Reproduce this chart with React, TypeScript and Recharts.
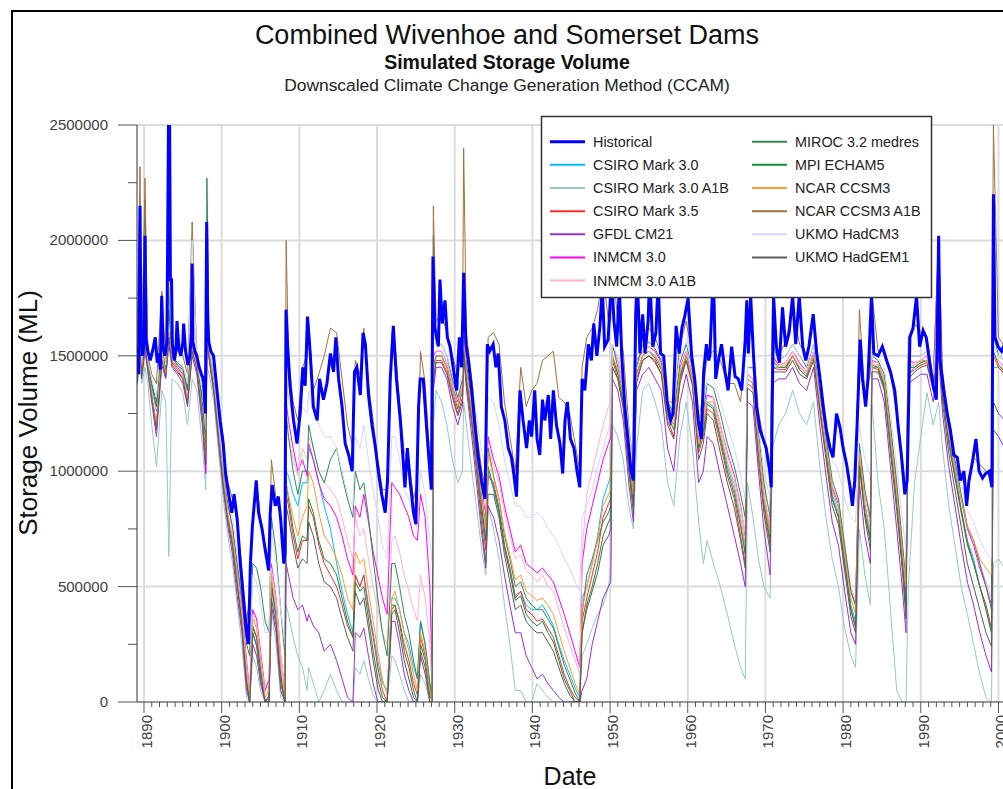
import React from 'react';
import { LineChart, Line, XAxis, YAxis, CartesianGrid } from 'recharts';

// ---------- historical series: [decimal year, storage ML] ----------
const historical: number[][] = [
  [1889.1, 1540000], [1889.3, 1420000], [1889.49, 2150000], [1889.6, 1620000], [1889.8, 1500000],
  [1890.0, 1560000], [1890.13, 2020000], [1890.25, 1580000], [1890.5, 1520000], [1890.8, 1480000],
  [1891.1, 1520000], [1891.45, 1580000], [1891.7, 1470000], [1891.9, 1510000], [1892.1, 1440000],
  [1892.28, 1760000], [1892.45, 1540000], [1892.7, 1500000], [1892.95, 1560000], [1893.15, 2500000],
  [1893.3, 2500000], [1893.4, 1830000], [1893.55, 1830000], [1893.65, 1550000], [1893.9, 1480000],
  [1894.1, 1520000], [1894.25, 1650000], [1894.5, 1530000], [1894.75, 1500000], [1895.0, 1560000],
  [1895.1, 1640000], [1895.35, 1520000], [1895.65, 1460000], [1895.9, 1500000], [1896.1, 1600000],
  [1896.2, 1900000], [1896.3, 1560000], [1896.55, 1520000], [1896.8, 1500000], [1897.1, 1450000],
  [1897.4, 1420000], [1897.65, 1400000], [1897.9, 1250000], [1898.07, 2080000], [1898.2, 1650000],
  [1898.35, 1560000], [1898.6, 1520000], [1898.95, 1500000], [1899.4, 1350000], [1899.8, 1220000],
  [1900.2, 1120000], [1900.5, 990000], [1900.9, 900000], [1901.3, 820000], [1901.6, 900000],
  [1902.0, 790000], [1902.4, 600000], [1902.8, 450000], [1903.2, 300000], [1903.45, 250000],
  [1903.7, 600000], [1903.95, 760000], [1904.3, 900000], [1904.45, 960000], [1904.75, 820000],
  [1905.2, 750000], [1905.6, 660000], [1906.05, 570000], [1906.25, 820000], [1906.5, 940000],
  [1906.9, 850000], [1907.3, 890000], [1907.6, 790000], [1908.0, 600000], [1908.15, 650000],
  [1908.28, 1700000], [1908.5, 1540000], [1908.8, 1370000], [1909.25, 1220000], [1909.7, 1120000],
  [1910.1, 1250000], [1910.45, 1450000], [1910.75, 1370000], [1911.05, 1670000], [1911.4, 1510000],
  [1911.8, 1280000], [1912.3, 1220000], [1912.6, 1400000], [1913.1, 1310000], [1913.55, 1380000],
  [1914.0, 1510000], [1914.4, 1430000], [1914.7, 1580000], [1915.05, 1400000], [1915.5, 1280000],
  [1915.9, 1120000], [1916.35, 1070000], [1916.8, 1000000], [1917.1, 1430000], [1917.4, 1450000],
  [1917.85, 1330000], [1918.2, 1600000], [1918.5, 1550000], [1918.9, 1330000], [1919.35, 1200000],
  [1919.8, 1100000], [1920.2, 990000], [1920.6, 900000], [1921.05, 820000], [1921.35, 960000],
  [1921.7, 1400000], [1922.1, 1630000], [1922.5, 1400000], [1923.0, 1220000], [1923.4, 1030000],
  [1923.6, 930000], [1923.9, 1100000], [1924.25, 960000], [1924.7, 820000], [1925.0, 770000],
  [1925.35, 1280000], [1925.55, 1400000], [1925.95, 1400000], [1926.4, 1180000], [1926.8, 1000000],
  [1927.0, 920000], [1927.2, 1930000], [1927.45, 1620000], [1927.9, 1540000], [1928.1, 1830000],
  [1928.4, 1640000], [1928.75, 1740000], [1929.05, 1580000], [1929.4, 1540000], [1929.8, 1450000],
  [1930.25, 1350000], [1930.6, 1580000], [1930.9, 1450000], [1931.15, 1860000], [1931.45, 1550000],
  [1931.75, 1480000], [1932.2, 1350000], [1932.6, 1200000], [1933.0, 1070000], [1933.45, 960000],
  [1933.9, 880000], [1934.2, 1550000], [1934.5, 1520000], [1934.95, 1550000], [1935.3, 1450000],
  [1935.6, 1510000], [1936.0, 1280000], [1936.45, 1220000], [1936.9, 1100000], [1937.3, 1060000],
  [1937.6, 990000], [1937.95, 890000], [1938.4, 1350000], [1938.8, 1220000], [1939.25, 1100000],
  [1939.6, 1220000], [1939.9, 1150000], [1940.3, 1350000], [1940.6, 1140000], [1940.95, 1070000],
  [1941.3, 1310000], [1941.6, 1220000], [1942.05, 1330000], [1942.35, 1140000], [1942.7, 1350000],
  [1943.1, 1200000], [1943.55, 1120000], [1943.9, 990000], [1944.2, 1220000], [1944.5, 1300000],
  [1944.9, 1140000], [1945.35, 1100000], [1945.75, 1000000], [1946.1, 930000], [1946.4, 1400000],
  [1946.75, 1350000], [1947.2, 1550000], [1947.6, 1480000], [1947.9, 1640000], [1948.3, 1500000],
  [1948.7, 1630000], [1949.0, 1800000], [1949.3, 1540000], [1949.75, 1570000], [1950.2, 1850000],
  [1950.5, 1650000], [1950.85, 1540000], [1951.2, 1800000], [1951.5, 1500000], [1951.9, 1280000],
  [1952.35, 1120000], [1952.7, 1000000], [1953.0, 960000], [1953.3, 1680000], [1953.5, 1850000],
  [1953.85, 1510000], [1954.2, 1680000], [1954.5, 1510000], [1954.9, 1650000], [1955.1, 1850000],
  [1955.5, 1540000], [1955.9, 1600000], [1956.2, 1830000], [1956.5, 1510000], [1956.9, 1500000],
  [1957.35, 1300000], [1957.8, 1220000], [1958.1, 1250000], [1958.5, 1630000], [1958.9, 1510000],
  [1959.25, 1620000], [1959.6, 1670000], [1960.05, 1750000], [1960.5, 1500000], [1960.9, 1400000],
  [1961.35, 1220000], [1961.75, 1140000], [1962.05, 1430000], [1962.4, 1550000], [1962.7, 1480000],
  [1962.85, 1500000], [1963.3, 1870000], [1963.6, 1400000], [1963.9, 1470000], [1964.35, 1550000],
  [1964.8, 1430000], [1965.2, 1350000], [1965.65, 1540000], [1966.1, 1410000], [1966.5, 1400000],
  [1966.95, 1350000], [1967.4, 1570000], [1967.6, 1740000], [1967.8, 1510000], [1968.1, 1760000],
  [1968.45, 1510000], [1968.85, 1280000], [1969.3, 1180000], [1969.7, 1140000], [1970.1, 1100000],
  [1970.55, 1000000], [1970.75, 930000], [1971.05, 1760000], [1971.4, 1540000], [1971.8, 1470000],
  [1972.2, 1710000], [1972.6, 1540000], [1973.05, 1600000], [1973.5, 1760000], [1973.9, 1550000],
  [1974.35, 1760000], [1974.8, 1540000], [1975.2, 1480000], [1975.6, 1540000], [1976.15, 1680000],
  [1976.6, 1510000], [1977.0, 1410000], [1977.45, 1280000], [1977.85, 1180000], [1978.3, 1100000],
  [1978.7, 1060000], [1979.15, 1250000], [1979.6, 1190000], [1980.0, 1100000], [1980.45, 1030000],
  [1980.9, 930000], [1981.2, 850000], [1981.5, 960000], [1981.8, 1200000], [1982.2, 1570000],
  [1982.5, 1400000], [1982.9, 1280000], [1983.2, 1400000], [1983.65, 1760000], [1983.95, 1510000],
  [1984.5, 1500000], [1985.05, 1540000], [1985.6, 1480000], [1986.1, 1430000], [1986.65, 1350000],
  [1987.1, 1190000], [1987.5, 1070000], [1987.95, 900000], [1988.25, 960000], [1988.6, 1580000],
  [1989.0, 1620000], [1989.45, 1760000], [1989.85, 1540000], [1990.3, 1610000], [1990.7, 1580000],
  [1991.15, 1470000], [1991.6, 1370000], [1992.0, 1310000], [1992.3, 2020000], [1992.5, 1480000],
  [1992.95, 1350000], [1993.4, 1250000], [1993.8, 1180000], [1994.25, 1070000], [1994.7, 1060000],
  [1995.1, 960000], [1995.55, 1000000], [1995.9, 850000], [1996.2, 960000], [1996.65, 1040000],
  [1997.1, 1140000], [1997.5, 1000000], [1997.95, 970000], [1998.35, 990000], [1998.8, 1000000],
  [1999.15, 930000], [1999.35, 2200000], [1999.55, 1580000], [1999.95, 1540000], [2000.4, 1520000],
  [2000.9, 1560000], [2001.5, 1500000],
];

// ---------- shared time grid for the climate-model series ----------
const modelYears = [
  1889.1, 1889.49, 1889.7, 1890.13, 1890.5, 1891.0, 1891.6, 1892.3, 1892.8, 1893.2, 1893.6, 1894.3, 1895.0, 1895.6, 1896.2, 1896.8, 1897.5, 1897.95, 1898.1, 1898.4,
  1899.0, 1899.6, 1900.2, 1900.8, 1901.4, 1902.0, 1902.6, 1903.2, 1903.6, 1904.0, 1904.5, 1905.0, 1905.6, 1906.1, 1906.4, 1907.0, 1907.6, 1908.15,
  1908.3, 1908.6, 1909.2, 1909.8, 1910.4, 1911.0, 1911.2, 1911.8, 1912.5, 1913.2, 1914.0, 1914.8, 1915.5, 1916.2, 1916.9, 1917.2, 1917.8, 1918.3, 1918.9, 1919.5, 1920.1, 1920.7, 1921.3, 1921.9, 1922.3, 1922.9, 1923.5, 1924.1, 1924.7, 1925.2, 1925.6, 1926.2, 1926.8, 1927.1, 1927.25,
  1927.6, 1928.3, 1929.0, 1929.7, 1930.4, 1931.0, 1931.15, 1931.5, 1932.2, 1932.9, 1933.5, 1934.0, 1934.3,
  1935.0, 1935.7, 1936.4, 1937.1, 1937.8, 1938.5, 1939.2, 1939.9, 1940.6, 1941.3, 1942.0, 1942.7, 1943.4, 1944.1, 1944.8, 1945.5, 1946.1, 1946.4,
  1947.0, 1947.7, 1948.4, 1949.1, 1949.8, 1950.1, 1950.3, 1951.0, 1951.7, 1952.4, 1953.0, 1953.4,
  1954.2, 1955.0, 1955.8, 1956.6, 1957.4, 1958.2, 1959.0, 1959.8, 1960.6, 1961.4, 1962.0, 1962.5, 1963.3, 1964.2, 1965.1, 1966.0, 1966.8, 1967.4,
  1967.7, 1968.4, 1969.1, 1969.8, 1970.6, 1970.9,
  1971.7, 1972.6, 1973.5, 1974.4, 1975.3, 1976.2, 1977.0, 1977.8, 1978.6, 1979.4, 1980.2, 1981.0, 1981.6, 1982.1, 1982.8, 1983.5, 1983.7,
  1984.5, 1985.3, 1986.1, 1986.9, 1987.6, 1988.1, 1988.4,
  1989.2, 1990.0, 1990.8, 1991.6, 1992.3, 1992.8, 1993.6, 1994.4, 1995.2, 1996.0, 1996.8, 1997.6, 1998.4, 1999.1, 1999.35, 2000.0, 2000.8, 2001.5,
];

const csiroMk30 = [
  1420000, 1550000, 1430000, 1550000, 1470000, 1360000, 1260000, 1480000, 1430000, 1580000, 1490000, 1460000, 1430000, 1340000, 1520000, 1460000, 1300000, 1100000, 1550000, 1500000,
  1380000, 1160000, 960000, 800000, 700000, 520000, 350000, 100000, 0, 300000, 250000, 120000, 0, 20000, 500000, 350000, 100000, 0,
  1000000, 980000, 900000, 850000, 950000, 950000, 1100000, 1050000, 950000, 850000, 750000, 600000, 480000, 380000, 300000, 550000, 500000, 550000, 420000, 300000, 180000, 80000, 50000, 450000, 450000, 400000, 300000, 250000, 150000, 100000, 350000, 250000, 80000, 20000, 1400000,
  1500000, 1500000, 1450000, 1360000, 1280000, 1350000, 1550000, 1420000, 1240000, 1030000, 830000, 700000, 1000000,
  920000, 820000, 680000, 580000, 460000, 480000, 420000, 400000, 400000, 420000, 380000, 330000, 250000, 180000, 120000, 60000, 20000, 450000,
  500000, 600000, 720000, 880000, 950000, 980000, 1500000, 1420000, 1300000, 1050000, 880000, 1420000,
  1500000, 1520000, 1500000, 1450000, 1250000, 1200000, 1420000, 1500000, 1400000, 1100000, 1180000, 1300000, 1280000, 1150000, 1020000, 920000, 780000, 650000,
  1400000, 1380000, 1100000, 880000, 720000, 1450000,
  1450000, 1450000, 1500000, 1450000, 1420000, 1500000, 1300000, 1100000, 900000, 820000, 620000, 420000, 350000, 1050000, 850000, 720000, 1450000,
  1450000, 1380000, 1120000, 880000, 620000, 420000, 1420000,
  1450000, 1470000, 1480000, 1380000, 1600000, 1350000, 1150000, 1000000, 840000, 700000, 620000, 500000, 400000, 300000, 1450000, 1450000, 1420000, 1400000,
];

const csiroMk30A1B = [
  1370000, 1450000, 1380000, 1450000, 1380000, 1200000, 1020000, 1350000, 1300000, 630000, 1400000, 1380000, 1340000, 1200000, 1400000, 1350000, 1120000, 920000, 1450000, 1420000,
  1300000, 1080000, 880000, 720000, 600000, 420000, 250000, 20000, 0, 200000, 150000, 50000, 0, 0, 400000, 250000, 20000, 0,
  420000, 380000, 280000, 200000, 150000, 50000, 150000, 80000, 0, 50000, 120000, 50000, 0, 0, 0, 150000, 120000, 180000, 100000, 30000, 0, 0, 0, 200000, 180000, 120000, 50000, 0, 0, 0, 120000, 80000, 0, 0, 1200000,
  1350000, 1300000, 1200000, 1050000, 950000, 1000000, 1300000, 1200000, 1000000, 820000, 650000, 550000, 850000,
  750000, 620000, 420000, 250000, 50000, 50000, 0, 0, 80000, 50000, 20000, 0, 0, 0, 0, 0, 0, 200000,
  250000, 320000, 380000, 420000, 500000, 600000, 1200000, 1150000, 1050000, 850000, 750000, 1100000,
  1350000, 1380000, 1300000, 1200000, 950000, 850000, 1150000, 1300000, 1100000, 780000, 600000, 700000, 600000, 500000, 380000, 250000, 150000, 100000,
  950000, 800000, 620000, 500000, 450000, 1100000,
  1200000, 1250000, 1350000, 1250000, 1200000, 1300000, 1020000, 800000, 620000, 500000, 320000, 200000, 150000, 750000, 550000, 420000, 1300000,
  950000, 750000, 400000, 50000, 0, 0, 500000,
  950000, 1150000, 1340000, 1200000, 1300000, 1100000, 850000, 680000, 500000, 380000, 250000, 120000, 20000, 0, 600000, 620000, 580000, 550000,
];

const csiroMk35 = [
  1400000, 1580000, 1420000, 1580000, 1450000, 1330000, 1200000, 1500000, 1420000, 1600000, 1470000, 1440000, 1400000, 1300000, 1550000, 1440000, 1250000, 1050000, 1600000, 1490000,
  1360000, 1150000, 950000, 800000, 680000, 520000, 350000, 100000, 20000, 320000, 280000, 150000, 0, 30000, 500000, 380000, 120000, 0,
  900000, 850000, 720000, 620000, 700000, 700000, 850000, 800000, 680000, 600000, 550000, 500000, 420000, 330000, 280000, 550000, 500000, 550000, 400000, 280000, 150000, 50000, 0, 400000, 420000, 350000, 250000, 180000, 80000, 30000, 280000, 200000, 50000, 0, 1380000,
  1480000, 1480000, 1430000, 1330000, 1250000, 1320000, 1550000, 1400000, 1220000, 1000000, 800000, 660000, 980000,
  950000, 840000, 680000, 580000, 450000, 480000, 400000, 380000, 350000, 360000, 320000, 280000, 200000, 120000, 60000, 20000, 0, 350000,
  450000, 550000, 650000, 800000, 860000, 880000, 1480000, 1400000, 1280000, 1020000, 850000, 1400000,
  1480000, 1500000, 1480000, 1420000, 1220000, 1150000, 1400000, 1480000, 1380000, 1080000, 1150000, 1270000, 1250000, 1120000, 980000, 880000, 720000, 600000,
  1380000, 1360000, 1080000, 850000, 680000, 1450000,
  1440000, 1440000, 1500000, 1440000, 1410000, 1500000, 1280000, 1080000, 880000, 800000, 600000, 400000, 320000, 1050000, 820000, 700000, 1450000,
  1440000, 1360000, 1120000, 860000, 600000, 400000, 1420000,
  1440000, 1460000, 1470000, 1360000, 1550000, 1330000, 1120000, 970000, 820000, 680000, 600000, 500000, 420000, 320000, 1500000, 1450000, 1420000, 1400000,
];

const gfdlCm21 = [
  1380000, 1520000, 1400000, 1520000, 1430000, 1300000, 1150000, 1460000, 1400000, 1550000, 1450000, 1420000, 1380000, 1280000, 1500000, 1420000, 1200000, 990000, 1550000, 1480000,
  1330000, 1120000, 920000, 760000, 640000, 460000, 300000, 50000, 0, 250000, 200000, 80000, 0, 0, 420000, 300000, 50000, 0,
  600000, 550000, 450000, 400000, 420000, 350000, 380000, 330000, 300000, 220000, 250000, 180000, 100000, 20000, 0, 300000, 280000, 320000, 200000, 80000, 0, 0, 0, 350000, 350000, 250000, 120000, 50000, 0, 0, 200000, 120000, 0, 0, 1350000,
  1450000, 1450000, 1400000, 1280000, 1200000, 1280000, 1500000, 1360000, 1150000, 920000, 720000, 580000, 850000,
  800000, 700000, 550000, 420000, 300000, 300000, 200000, 150000, 100000, 120000, 80000, 50000, 20000, 0, 0, 0, 0, 50000,
  100000, 250000, 350000, 450000, 500000, 520000, 1400000, 1350000, 1220000, 950000, 780000, 1350000,
  1420000, 1450000, 1400000, 1350000, 1100000, 1000000, 1300000, 1420000, 1300000, 950000, 1000000, 1150000, 1120000, 980000, 850000, 720000, 600000, 500000,
  1300000, 1280000, 1000000, 750000, 550000, 1380000,
  1400000, 1400000, 1450000, 1380000, 1350000, 1450000, 1200000, 980000, 780000, 680000, 480000, 300000, 250000, 950000, 720000, 600000, 1400000,
  1400000, 1300000, 1020000, 750000, 500000, 300000, 1380000,
  1400000, 1420000, 1420000, 1300000, 1500000, 1250000, 1020000, 850000, 680000, 520000, 420000, 300000, 200000, 130000, 1180000, 1150000, 1100000, 1050000,
];

const inmcm30 = [
  1410000, 1600000, 1430000, 1600000, 1450000, 1320000, 1180000, 1500000, 1420000, 1600000, 1480000, 1450000, 1420000, 1300000, 1550000, 1450000, 1250000, 1000000, 1600000, 1500000,
  1400000, 1200000, 1000000, 850000, 750000, 580000, 420000, 180000, 50000, 400000, 360000, 220000, 50000, 100000, 600000, 450000, 200000, 50000,
  1300000, 1220000, 1100000, 1000000, 1050000, 980000, 1120000, 1050000, 950000, 880000, 850000, 800000, 720000, 620000, 550000, 850000, 800000, 900000, 780000, 650000, 550000, 450000, 380000, 950000, 930000, 900000, 850000, 800000, 720000, 700000, 900000, 800000, 500000, 100000, 1500000,
  1520000, 1520000, 1470000, 1380000, 1300000, 1380000, 1600000, 1450000, 1300000, 1100000, 920000, 800000, 1150000,
  1050000, 980000, 850000, 750000, 650000, 680000, 600000, 580000, 560000, 580000, 550000, 520000, 450000, 380000, 300000, 220000, 150000, 600000,
  750000, 850000, 950000, 1050000, 1120000, 1150000, 1550000, 1480000, 1360000, 1120000, 950000, 1480000,
  1520000, 1540000, 1520000, 1470000, 1280000, 1240000, 1450000, 1520000, 1420000, 1140000, 1220000, 1330000, 1320000, 1200000, 1080000, 980000, 850000, 720000,
  1420000, 1400000, 1120000, 900000, 750000, 1500000,
  1460000, 1470000, 1520000, 1470000, 1430000, 1520000, 1320000, 1120000, 930000, 860000, 660000, 480000, 420000, 1100000, 900000, 780000, 1480000,
  1470000, 1400000, 1180000, 930000, 680000, 480000, 1480000,
  1470000, 1480000, 1500000, 1400000, 2010000, 1380000, 1180000, 1030000, 880000, 750000, 680000, 580000, 500000, 420000, 1500000, 1480000, 1450000, 1420000,
];

const inmcm30A1B = [
  1420000, 1580000, 1440000, 1580000, 1460000, 1360000, 1270000, 1500000, 1430000, 1600000, 1490000, 1460000, 1430000, 1340000, 1560000, 1460000, 1300000, 1100000, 1600000, 1510000,
  1400000, 1200000, 1000000, 840000, 740000, 570000, 400000, 160000, 50000, 380000, 340000, 200000, 40000, 80000, 580000, 440000, 200000, 50000,
  1200000, 1150000, 1050000, 980000, 1100000, 1050000, 1150000, 1100000, 1000000, 950000, 920000, 880000, 800000, 700000, 620000, 800000, 720000, 750000, 620000, 500000, 400000, 300000, 250000, 700000, 720000, 650000, 550000, 480000, 400000, 350000, 550000, 450000, 250000, 50000, 1450000,
  1520000, 1520000, 1470000, 1380000, 1310000, 1380000, 1580000, 1450000, 1290000, 1100000, 900000, 780000, 1120000,
  1020000, 950000, 820000, 720000, 620000, 640000, 570000, 550000, 520000, 550000, 500000, 480000, 400000, 320000, 250000, 180000, 120000, 650000,
  900000, 1000000, 1100000, 1200000, 1280000, 1300000, 1550000, 1480000, 1360000, 1100000, 940000, 1450000,
  1520000, 1540000, 1510000, 1460000, 1270000, 1220000, 1440000, 1520000, 1420000, 1130000, 1220000, 1320000, 1320000, 1200000, 1070000, 970000, 840000, 730000,
  1420000, 1400000, 1130000, 900000, 760000, 1480000,
  1460000, 1470000, 1520000, 1460000, 1430000, 1520000, 1320000, 1130000, 940000, 870000, 680000, 500000, 440000, 1100000, 900000, 780000, 1470000,
  1470000, 1400000, 1180000, 940000, 700000, 500000, 1460000,
  1470000, 1480000, 1500000, 1400000, 1900000, 1380000, 1180000, 1040000, 900000, 760000, 700000, 600000, 520000, 450000, 1500000, 1480000, 1450000, 1420000,
];

const miroc32 = [
  1430000, 1900000, 1450000, 2180000, 1480000, 1380000, 1300000, 1600000, 1450000, 1800000, 1500000, 1470000, 1450000, 1360000, 1600000, 1470000, 1320000, 1150000, 2270000, 1530000,
  1420000, 1220000, 1020000, 860000, 760000, 600000, 450000, 250000, 200000, 600000, 580000, 500000, 350000, 300000, 800000, 650000, 400000, 200000,
  1250000, 1150000, 1000000, 900000, 1000000, 1000000, 1200000, 1100000, 1000000, 950000, 1050000, 1100000, 980000, 880000, 800000, 1000000, 920000, 950000, 800000, 620000, 450000, 300000, 200000, 600000, 600000, 500000, 380000, 300000, 180000, 100000, 350000, 250000, 80000, 20000, 2020000,
  1550000, 1550000, 1500000, 1400000, 1320000, 1400000, 1700000, 1470000, 1300000, 1080000, 880000, 750000, 1100000,
  980000, 880000, 720000, 620000, 500000, 520000, 450000, 420000, 400000, 400000, 360000, 320000, 240000, 160000, 100000, 40000, 0, 380000,
  550000, 620000, 700000, 780000, 820000, 850000, 1550000, 1450000, 1320000, 1080000, 900000, 1450000,
  1550000, 1560000, 1530000, 1480000, 1300000, 1250000, 1470000, 1550000, 1450000, 1180000, 1250000, 1380000, 1360000, 1250000, 1120000, 1020000, 900000, 800000,
  1450000, 1450000, 1180000, 950000, 800000, 1550000,
  1480000, 1500000, 1550000, 1500000, 1450000, 1550000, 1350000, 1150000, 960000, 880000, 680000, 480000, 420000, 1120000, 920000, 800000, 1500000,
  1480000, 1420000, 1200000, 950000, 700000, 520000, 1500000,
  1500000, 1500000, 1520000, 1420000, 1700000, 1400000, 1200000, 1050000, 900000, 760000, 700000, 600000, 500000, 400000, 1600000, 1500000, 1480000, 1450000,
];

const mpiEcham5 = [
  1420000, 1650000, 1440000, 1700000, 1470000, 1370000, 1280000, 1550000, 1440000, 1700000, 1500000, 1460000, 1440000, 1350000, 1580000, 1470000, 1300000, 1120000, 1800000, 1520000,
  1370000, 1160000, 960000, 800000, 700000, 530000, 360000, 100000, 0, 330000, 280000, 140000, 0, 20000, 520000, 380000, 120000, 0,
  950000, 880000, 750000, 650000, 720000, 700000, 880000, 820000, 700000, 620000, 600000, 550000, 450000, 350000, 280000, 520000, 480000, 500000, 360000, 220000, 100000, 20000, 0, 420000, 420000, 340000, 220000, 150000, 50000, 0, 250000, 180000, 30000, 0, 1450000,
  1500000, 1500000, 1450000, 1350000, 1270000, 1350000, 1650000, 1420000, 1250000, 1040000, 840000, 700000, 1020000,
  930000, 830000, 670000, 560000, 440000, 460000, 380000, 350000, 330000, 350000, 300000, 260000, 180000, 100000, 50000, 0, 0, 300000,
  420000, 500000, 600000, 720000, 780000, 800000, 1500000, 1420000, 1300000, 1040000, 860000, 1420000,
  1500000, 1520000, 1490000, 1440000, 1240000, 1180000, 1410000, 1500000, 1400000, 1100000, 1170000, 1290000, 1270000, 1140000, 1000000, 900000, 760000, 640000,
  1400000, 1380000, 1100000, 860000, 700000, 1480000,
  1450000, 1450000, 1500000, 1440000, 1410000, 1500000, 1280000, 1080000, 880000, 800000, 600000, 400000, 330000, 1050000, 820000, 700000, 1460000,
  1450000, 1370000, 1120000, 870000, 620000, 420000, 1450000,
  1450000, 1470000, 1480000, 1370000, 1600000, 1340000, 1130000, 980000, 830000, 690000, 600000, 500000, 400000, 300000, 1520000, 1460000, 1430000, 1400000,
];

const ncarCcsm3 = [
  1400000, 1600000, 1420000, 1600000, 1450000, 1320000, 1200000, 1500000, 1420000, 1600000, 1480000, 1440000, 1410000, 1300000, 1550000, 1450000, 1260000, 1050000, 1600000, 1500000,
  1380000, 1170000, 970000, 810000, 710000, 550000, 380000, 130000, 20000, 360000, 320000, 180000, 20000, 50000, 550000, 400000, 150000, 20000,
  950000, 900000, 800000, 720000, 800000, 850000, 1000000, 950000, 820000, 720000, 680000, 620000, 550000, 450000, 400000, 650000, 600000, 620000, 480000, 350000, 220000, 100000, 30000, 450000, 480000, 400000, 300000, 220000, 120000, 50000, 300000, 220000, 50000, 0, 1400000,
  1500000, 1500000, 1450000, 1350000, 1280000, 1360000, 1600000, 1430000, 1260000, 1060000, 870000, 750000, 1080000,
  970000, 880000, 740000, 640000, 530000, 550000, 480000, 460000, 440000, 450000, 420000, 380000, 300000, 220000, 150000, 80000, 30000, 400000,
  500000, 600000, 700000, 850000, 900000, 920000, 1500000, 1440000, 1320000, 1060000, 900000, 1420000,
  1500000, 1520000, 1500000, 1450000, 1250000, 1200000, 1430000, 1500000, 1400000, 1120000, 1200000, 1300000, 1300000, 1170000, 1040000, 940000, 800000, 680000,
  1400000, 1380000, 1100000, 880000, 730000, 1470000,
  1450000, 1460000, 1500000, 1450000, 1420000, 1500000, 1300000, 1100000, 920000, 840000, 640000, 450000, 380000, 1080000, 860000, 740000, 1460000,
  1460000, 1390000, 1150000, 900000, 660000, 500000, 1450000,
  1460000, 1480000, 1480000, 1380000, 1600000, 1360000, 1160000, 1020000, 880000, 760000, 700000, 620000, 580000, 550000, 1500000, 1460000, 1440000, 1420000,
];

const ncarCcsm3A1B = [
  1450000, 2320000, 1480000, 2270000, 1500000, 1420000, 1380000, 1780000, 1480000, 2300000, 1550000, 1520000, 1500000, 1420000, 2080000, 1500000, 1380000, 1250000, 2000000, 1540000,
  1480000, 1280000, 1080000, 950000, 880000, 800000, 580000, 350000, 450000, 800000, 950000, 800000, 680000, 600000, 1050000, 880000, 800000, 620000,
  2000000, 1500000, 1300000, 1220000, 1450000, 1500000, 1650000, 1350000, 1420000, 1500000, 1620000, 1600000, 1400000, 1200000, 1100000, 1480000, 1420000, 1620000, 1380000, 1220000, 1050000, 920000, 920000, 1600000, 1550000, 1300000, 1080000, 1050000, 880000, 950000, 1520000, 1380000, 1050000, 950000, 2150000,
  1650000, 1680000, 1600000, 1500000, 1420000, 1520000, 2400000, 1600000, 1400000, 1150000, 1000000, 920000, 1580000,
  1600000, 1550000, 1300000, 1150000, 1000000, 1450000, 1280000, 1350000, 1380000, 1480000, 1500000, 1520000, 1320000, 1300000, 1250000, 1120000, 1000000, 1450000,
  1580000, 1620000, 1700000, 1850000, 1650000, 1650000, 1900000, 1650000, 1520000, 1200000, 1020000, 1720000,
  1600000, 1620000, 1580000, 1500000, 1300000, 1300000, 1550000, 1650000, 1500000, 1200000, 1350000, 1500000, 1520000, 1480000, 1380000, 1380000, 1300000, 1550000,
  1700000, 1550000, 1260000, 1130000, 1000000, 1700000,
  1500000, 1560000, 1700000, 1550000, 1500000, 1680000, 1420000, 1200000, 1080000, 1230000, 1080000, 920000, 930000, 1700000, 1330000, 1420000, 1780000,
  1520000, 1530000, 1420000, 1250000, 1060000, 920000, 1580000,
  1640000, 1600000, 1580000, 1400000, 2000000, 1430000, 1230000, 1080000, 980000, 900000, 1060000, 1030000, 1000000, 960000, 2500000, 1580000, 1540000, 1500000,
];

const ukmoHadCm3 = [
  1440000, 1700000, 1460000, 1750000, 1480000, 1400000, 1320000, 1600000, 1460000, 1900000, 1520000, 1480000, 1460000, 1380000, 2000000, 1480000, 1350000, 1180000, 1700000, 1530000,
  1420000, 1220000, 1030000, 880000, 800000, 640000, 500000, 300000, 250000, 550000, 520000, 420000, 300000, 300000, 750000, 600000, 400000, 250000,
  1400000, 1320000, 1220000, 1150000, 1280000, 1250000, 1350000, 1250000, 1200000, 1150000, 1150000, 1100000, 1000000, 900000, 850000, 1150000, 1100000, 1200000, 1050000, 920000, 800000, 680000, 620000, 1150000, 1150000, 1050000, 920000, 880000, 800000, 750000, 1000000, 900000, 700000, 600000, 1600000,
  1550000, 1550000, 1500000, 1420000, 1360000, 1420000, 1700000, 1500000, 1380000, 1220000, 1080000, 1000000, 1320000,
  1300000, 1200000, 1050000, 950000, 850000, 850000, 800000, 800000, 820000, 800000, 750000, 720000, 680000, 620000, 580000, 520000, 480000, 800000,
  850000, 920000, 1020000, 1100000, 1180000, 1220000, 1550000, 1500000, 1400000, 1180000, 1020000, 1500000,
  1550000, 1570000, 1550000, 1500000, 1330000, 1300000, 1500000, 1560000, 1470000, 1220000, 1300000, 1400000, 1400000, 1300000, 1200000, 1100000, 980000, 880000,
  1450000, 1440000, 1200000, 1000000, 880000, 1500000,
  1480000, 1500000, 1550000, 1500000, 1460000, 1550000, 1380000, 1200000, 1050000, 1000000, 880000, 800000, 780000, 1200000, 1050000, 980000, 1500000,
  1500000, 1450000, 1250000, 1020000, 800000, 650000, 1500000,
  1500000, 1500000, 1520000, 1420000, 1700000, 1400000, 1220000, 1080000, 950000, 830000, 780000, 700000, 650000, 620000, 1550000, 1500000, 1480000, 1450000,
];

const ukmoHadGem1 = [
  1390000, 1550000, 1410000, 1550000, 1440000, 1310000, 1180000, 1480000, 1410000, 1580000, 1460000, 1430000, 1400000, 1290000, 1520000, 1440000, 1240000, 1030000, 1550000, 1490000,
  1350000, 1140000, 940000, 780000, 670000, 500000, 330000, 80000, 0, 300000, 240000, 100000, 0, 0, 450000, 330000, 80000, 0,
  850000, 800000, 680000, 580000, 620000, 600000, 780000, 720000, 600000, 520000, 500000, 450000, 360000, 280000, 220000, 480000, 420000, 450000, 320000, 180000, 60000, 0, 0, 380000, 400000, 300000, 180000, 100000, 20000, 0, 220000, 150000, 0, 0, 1400000,
  1470000, 1470000, 1420000, 1320000, 1240000, 1300000, 1520000, 1380000, 1200000, 970000, 760000, 600000, 900000,
  900000, 800000, 640000, 520000, 400000, 420000, 350000, 320000, 300000, 300000, 260000, 220000, 150000, 80000, 30000, 0, 0, 300000,
  400000, 480000, 560000, 680000, 720000, 750000, 1450000, 1400000, 1270000, 1000000, 820000, 1380000,
  1480000, 1500000, 1470000, 1420000, 1200000, 1140000, 1380000, 1480000, 1370000, 1050000, 1120000, 1250000, 1220000, 1080000, 950000, 840000, 700000, 580000,
  1360000, 1340000, 1050000, 820000, 650000, 1430000,
  1430000, 1430000, 1480000, 1420000, 1400000, 1480000, 1260000, 1050000, 850000, 770000, 570000, 370000, 300000, 1020000, 800000, 660000, 1430000,
  1430000, 1350000, 1080000, 830000, 580000, 360000, 1400000,
  1430000, 1450000, 1460000, 1350000, 1550000, 1300000, 1080000, 920000, 760000, 600000, 500000, 400000, 300000, 240000, 1300000, 1250000, 1220000, 1200000,
];

// ---------- series definitions (legend order) ----------
const modelSeries = [
  { key: 'csiroMk30', name: 'CSIRO Mark 3.0', color: '#00BFFF', values: csiroMk30 },
  { key: 'csiroMk30A1B', name: 'CSIRO Mark 3.0 A1B', color: '#96C8C8', values: csiroMk30A1B },
  { key: 'csiroMk35', name: 'CSIRO Mark 3.5', color: '#FF2A2A', values: csiroMk35 },
  { key: 'gfdlCm21', name: 'GFDL CM21', color: '#9A32CD', values: gfdlCm21 },
  { key: 'inmcm30', name: 'INMCM 3.0', color: '#FF00FF', values: inmcm30 },
  { key: 'inmcm30A1B', name: 'INMCM 3.0 A1B', color: '#FFB3D1', values: inmcm30A1B },
  { key: 'miroc32', name: 'MIROC 3.2 medres', color: '#2E8B57', values: miroc32 },
  { key: 'mpiEcham5', name: 'MPI ECHAM5', color: '#1B8A3A', values: mpiEcham5 },
  { key: 'ncarCcsm3', name: 'NCAR CCSM3', color: '#FF9A33', values: ncarCcsm3 },
  { key: 'ncarCcsm3A1B', name: 'NCAR CCSM3 A1B', color: '#A5713F', values: ncarCcsm3A1B },
  { key: 'ukmoHadCm3', name: 'UKMO HadCM3', color: '#D6D6FF', values: ukmoHadCm3 },
  { key: 'ukmoHadGem1', name: 'UKMO HadGEM1', color: '#5C5C5C', values: ukmoHadGem1 },
];
const HIST_COLOR = '#0000FF';

// ---------- axis ticks ----------
const yTicks = [0, 250000, 500000, 750000, 1000000, 1250000, 1500000, 1750000, 2000000, 2250000, 2500000];
const yGrid = [500000, 1000000, 1500000, 2000000, 2500000];
const decadeTicks = [1890, 1900, 1910, 1920, 1930, 1940, 1950, 1960, 1970, 1980, 1990, 2000];
const xTicks = [
  1890, 1891, 1892, 1893, 1894, 1895, 1896, 1897, 1898, 1899, 1900, 1901, 1902, 1903, 1904, 1905, 1906, 1907, 1908, 1909,
  1910, 1911, 1912, 1913, 1914, 1915, 1916, 1917, 1918, 1919, 1920, 1921, 1922, 1923, 1924, 1925, 1926, 1927, 1928, 1929,
  1930, 1931, 1932, 1933, 1934, 1935, 1936, 1937, 1938, 1939, 1940, 1941, 1942, 1943, 1944, 1945, 1946, 1947, 1948, 1949,
  1950, 1951, 1952, 1953, 1954, 1955, 1956, 1957, 1958, 1959, 1960, 1961, 1962, 1963, 1964, 1965, 1966, 1967, 1968, 1969,
  1970, 1971, 1972, 1973, 1974, 1975, 1976, 1977, 1978, 1979, 1980, 1981, 1982, 1983, 1984, 1985, 1986, 1987, 1988, 1989,
  1990, 1991, 1992, 1993, 1994, 1995, 1996, 1997, 1998, 1999, 2000, 2001,
];

// ---------- merged table ----------
const rowMap = new Map<number, any>();
const rowFor = (yr: number) => {
  let r = rowMap.get(yr);
  if (!r) { r = { year: yr }; rowMap.set(yr, r); }
  return r;
};
historical.forEach(([yr, v]) => { rowFor(yr).historical = v; });
modelSeries.forEach((s) => modelYears.forEach((yr, i) => { rowFor(yr)[s.key] = s.values[i]; }));
const chartData = Array.from(rowMap.values()).sort((a, b) => a.year - b.year);

const FONT = '"Liberation Sans", Arial, Helvetica, sans-serif';

const XTick = (props: any) => {
  const { x, y, payload } = props;
  const v = payload.value;
  const major = v % 10 === 0;
  return (
    <g>
      <line x1={x} y1={y} x2={x} y2={y + (major ? 11 : 5)} stroke="#555" strokeWidth={1} />
      {major && (
        <text x={x + 8} y={y + 13} transform={`rotate(-90, ${x + 8}, ${y + 13})`} textAnchor="end"
          fontSize={15} fontFamily={FONT} fill="#404040">{v}</text>
      )}
    </g>
  );
};

const YTick = (props: any) => {
  const { x, y, payload } = props;
  const v = payload.value;
  const major = v % 500000 === 0;
  return (
    <g>
      <line x1={x - (major ? 19 : 9)} y1={y} x2={x} y2={y} stroke="#555" strokeWidth={1} />
      {major && (
        <text x={x - 29} y={y + 5} textAnchor="end" fontSize={15} fontFamily={FONT} fill="#404040">{v}</text>
      )}
    </g>
  );
};

const legendLeft = [{ name: 'Historical', color: HIST_COLOR, w: 3 }, ...modelSeries.slice(0, 6).map((s) => ({ name: s.name, color: s.color, w: 2 }))];
const legendRight = modelSeries.slice(6).map((s) => ({ name: s.name, color: s.color, w: 2 }));

export default function App() {
  return (
    <div style={{ position: 'fixed', left: 0, top: 0, width: 1003, height: 789, overflow: 'hidden', background: '#fff' }}>
      <div style={{ position: 'absolute', left: 0, top: 0 }}>
        <LineChart width={1030} height={789} data={chartData} margin={{ top: 125, right: 16, bottom: 0, left: 0 }}>
          <CartesianGrid stroke="#DCDCDC" strokeWidth={2} horizontalValues={yGrid} verticalValues={decadeTicks} />
          <XAxis dataKey="year" type="number" domain={[1889.1, 2002]} ticks={xTicks} interval={0} height={87}
            tickSize={0} tickMargin={0} tickLine={false} tick={<XTick />} axisLine={{ stroke: '#333', strokeWidth: 1 }}
            allowDataOverflow />
          <YAxis type="number" domain={[0, 2500000]} ticks={yTicks} interval={0} width={137}
            tickSize={0} tickMargin={0} tickLine={false} tick={<YTick />} axisLine={{ stroke: '#333', strokeWidth: 1 }}
            allowDataOverflow />
          {modelSeries.map((s) => (
            <Line key={s.key} dataKey={s.key} name={s.name} stroke={s.color} strokeWidth={1} type="linear"
              dot={false} activeDot={false} connectNulls isAnimationActive={false} />
          ))}
          <Line dataKey="historical" name="Historical" stroke={HIST_COLOR} strokeWidth={3} type="linear"
            dot={false} activeDot={false} connectNulls isAnimationActive={false} />
        </LineChart>
      </div>
      <svg width={1003} height={789} style={{ position: 'absolute', left: 0, top: 0, pointerEvents: 'none' }}>
        <rect x={12} y={11} width={1100} height={900} fill="none" stroke="#000" strokeWidth={2} />
        <text x={507} y={44} textAnchor="middle" fontSize={27} fontFamily={FONT} fill="#111">Combined Wivenhoe and Somerset Dams</text>
        <text x={507} y={69} textAnchor="middle" fontSize={19.5} fontWeight="bold" fontFamily={FONT} fill="#111">Simulated Storage Volume</text>
        <text x={507} y={91} textAnchor="middle" fontSize={17.4} fontFamily={FONT} fill="#222">Downscaled Climate Change Generation Method (CCAM)</text>
        <text x={37} y={413} transform="rotate(-90, 37, 413)" textAnchor="middle" fontSize={26} fontFamily={FONT} fill="#111">Storage Volume (ML)</text>
        <text x={570} y={785} textAnchor="middle" fontSize={25} fontFamily={FONT} fill="#111">Date</text>
        <rect x={541.5} y={116.5} width={390} height={181} fill="#fff" stroke="#333" strokeWidth={1.5} />
        {legendLeft.map((e, i) => (
          <g key={e.name}>
            <line x1={550} x2={585} y1={141.7 + i * 23.15} y2={141.7 + i * 23.15} stroke={e.color} strokeWidth={e.w} />
            <text x={593} y={146.7 + i * 23.15} fontSize={14.4} fontFamily={FONT} fill="#222">{e.name}</text>
          </g>
        ))}
        {legendRight.map((e, i) => (
          <g key={e.name}>
            <line x1={752} x2={787} y1={141.7 + i * 23.15} y2={141.7 + i * 23.15} stroke={e.color} strokeWidth={e.w} />
            <text x={795} y={146.7 + i * 23.15} fontSize={14.4} fontFamily={FONT} fill="#222">{e.name}</text>
          </g>
        ))}
      </svg>
    </div>
  );
}
